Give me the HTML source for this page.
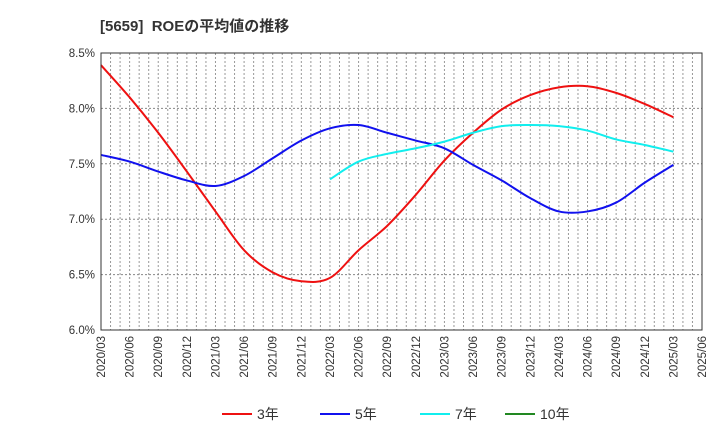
<!DOCTYPE html>
<html><head><meta charset="utf-8"><style>
body{margin:0;background:#fff;font-family:"Liberation Sans","Noto Sans CJK JP",sans-serif;}
svg text{font-family:"Liberation Sans","Noto Sans CJK JP",sans-serif;}
</style></head><body>
<svg id="c" width="720" height="440" xmlns="http://www.w3.org/2000/svg">
<text x="100" y="31" font-size="15" font-weight="bold" fill="#333">[5659]&#160; ROEの平均値の推移</text>
<g id="grid"></g><g id="series"></g><g id="axes"></g><g id="legend"></g>
</svg>
<script>
const xLabels=["2020/03","2020/06","2020/09","2020/12","2021/03","2021/06","2021/09","2021/12","2022/03","2022/06","2022/09","2022/12","2023/03","2023/06","2023/09","2023/12","2024/03","2024/06","2024/09","2024/12","2025/03","2025/06"];
const yTicks=[6.0,6.5,7.0,7.5,8.0,8.5];
const roe3=[8.39,8.10,7.78,7.43,7.07,6.72,6.52,6.44,6.47,6.72,6.94,7.22,7.53,7.78,7.99,8.12,8.19,8.20,8.14,8.04,7.92];
const roe5=[7.58,7.52,7.43,7.35,7.30,7.39,7.55,7.71,7.82,7.85,7.78,7.71,7.64,7.49,7.35,7.19,7.07,7.07,7.15,7.33,7.49];
const roe7=[7.36,7.52,7.59,7.64,7.70,7.78,7.84,7.85,7.84,7.80,7.72,7.67,7.61];
const roe7Start=8;
const NS="http://www.w3.org/2000/svg";
const L=101,R=702,T=53,B=330,yMin=6,yMax=8.5;
const xs=i=>L+i*(R-L)/(xLabels.length-1);
const ys=v=>B-(v-yMin)/(yMax-yMin)*(B-T);
function mk(tag,attrs,parent){const e=document.createElementNS(NS,tag);for(const k in attrs)e.setAttribute(k,attrs[k]);parent.appendChild(e);return e;}
const grid=document.getElementById('grid'),axes=document.getElementById('axes'),series=document.getElementById('series'),legend=document.getElementById('legend');
const nMonths=(xLabels.length-1)*3;
for(let m=1;m<nMonths;m++){const x=L+m*(R-L)/nMonths;const l=mk('line',{x1:x,x2:x,y1:T,y2:B,stroke:'#999','stroke-dasharray':'2,2','stroke-width':1},grid);

}
yTicks.forEach(v=>{const y=ys(v);
if(v>yMin&&v<yMax){const l=mk('line',{x1:L,x2:R,y1:y,y2:y,stroke:'#888','stroke-dasharray':'2,2'},grid);

}
const t=mk('text',{x:L-6,y:y+4,'text-anchor':'end','font-size':11.5,fill:'#333'},axes);t.textContent=v.toFixed(1)+'%';

});
xLabels.forEach((s,i)=>{const x=xs(i);const t=mk('text',{transform:`translate(${x+4},${B+6}) rotate(-90)`,'text-anchor':'end','font-size':11.5,fill:'#333'},axes);t.textContent=s;

});
const fr=mk('rect',{x:L,y:T,width:R-L,height:B-T,fill:'none',stroke:'#333','stroke-width':1},axes);


function path(vals,start){const p=vals.map((v,i)=>[xs(i+start),ys(v)]);let d=`M${p[0][0]},${p[0][1]}`;
for(let i=0;i<p.length-1;i++){const p0=p[i-1]||p[i],p1=p[i],p2=p[i+1],p3=p[i+2]||p2;
d+=` C${p1[0]+(p2[0]-p0[0])/6},${p1[1]+(p2[1]-p0[1])/6} ${p2[0]-(p3[0]-p1[0])/6},${p2[1]-(p3[1]-p1[1])/6} ${p2[0]},${p2[1]}`;}return d;}
[[roe3,0,'#ee1111','series-3y'],[roe5,0,'#1111ee','series-5y'],[roe7,roe7Start,'#11eeee','series-7y']].forEach(([v,s,c,n])=>{
const p=mk('path',{d:path(v,s),fill:'none',stroke:c,'stroke-width':2},series);

});
[['3年','#ee1111',222],['5年','#1111ee',320],['7年','#11eeee',420],['10年','#228822',505]].forEach(([lbl,c,x])=>{
const g=mk('g',{},legend);


mk('line',{x1:x,x2:x+30,y1:414,y2:414,stroke:c,'stroke-width':2},g);
const t=mk('text',{x:x+35,y:419,'font-size':14,fill:'#333'},g);t.textContent=lbl;});
</script>
</body></html>
